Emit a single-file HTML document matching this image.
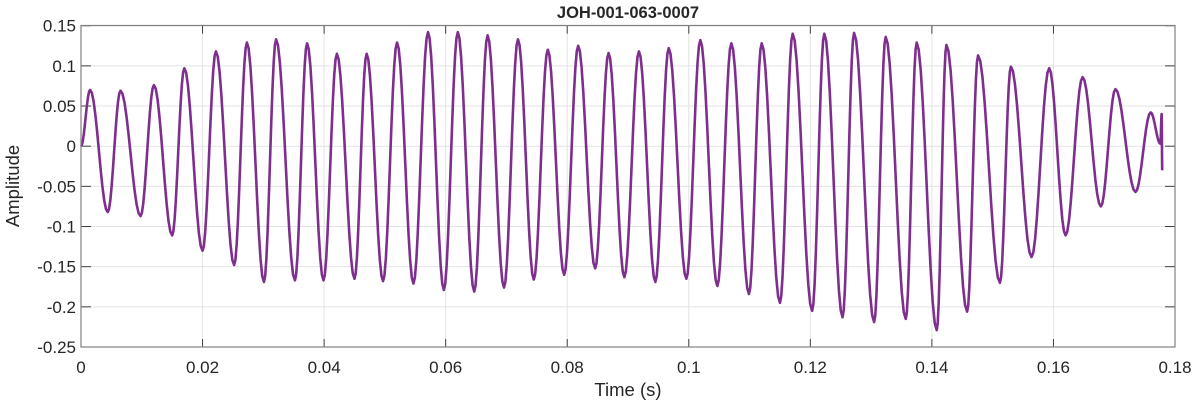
<!DOCTYPE html>
<html><head><meta charset="utf-8"><style>
html,body{margin:0;padding:0;background:#fff;}
svg{display:block;font-family:"Liberation Sans",Arial,sans-serif;}
</style></head><body>
<svg id="chart" width="1193" height="404" viewBox="0 0 1193 404" xmlns="http://www.w3.org/2000/svg">
<rect x="0" y="0" width="1193" height="404" fill="#fff"/>
<g id="grid"></g>
<g id="ticks"></g>
<path id="wave" fill="none" stroke="#7E2F8E" stroke-width="2.6" stroke-linejoin="round"/>
<rect x="81" y="25.5" width="1094" height="321.5" fill="none" stroke="#808080" stroke-width="1.2"/>
<text x="628" y="18" text-anchor="middle" font-size="16.5" font-weight="bold" fill="#262626">JOH-001-063-0007</text>
<text x="628" y="396" text-anchor="middle" font-size="18.5" fill="#262626">Time (s)</text>
<text transform="translate(19,186) rotate(-90)" text-anchor="middle" font-size="18.5" fill="#262626">Amplitude</text>
</svg>
<script>
const xTicks=[0,0.02,0.04,0.06,0.08,0.1,0.12,0.14,0.16,0.18];
const xTickLabels=["0","0.02","0.04","0.06","0.08","0.1","0.12","0.14","0.16","0.18"];
const yTicks=[0.15,0.1,0.05,0,-0.05,-0.1,-0.15,-0.2,-0.25];
const yTickLabels=["0.15","0.1","0.05","0","-0.05","-0.1","-0.15","-0.2","-0.25"];
const times=[0,0.0015,0.0044,0.0065,0.0098,0.012,0.015,0.017,0.020,0.0222,0.0252,0.0273,0.0301,0.0321,0.0352,0.0372,0.0399,0.0421,0.045,0.047,0.0497,0.052,0.0547,0.0571,0.0597,0.062,0.0647,0.0669,0.0696,0.0719,0.0745,0.0768,0.0795,0.0818,0.0846,0.0868,0.0894,0.0918,0.0945,0.0967,0.0996,0.1019,0.1047,0.107,0.1099,0.112,0.115,0.1171,0.1203,0.1223,0.1253,0.1272,0.1305,0.1324,0.1357,0.1375,0.1408,0.1424,0.1458,0.1476,0.1512,0.153,0.1564,0.1593,0.162,0.1648,0.1678,0.1702,0.1735,0.176,0.1776,0.1778,0.1779];
const amps=[0,0.07,-0.082,0.069,-0.087,0.076,-0.111,0.097,-0.130,0.118,-0.148,0.129,-0.169,0.133,-0.167,0.128,-0.167,0.115,-0.165,0.115,-0.168,0.129,-0.171,0.142,-0.179,0.142,-0.181,0.138,-0.176,0.133,-0.166,0.120,-0.160,0.125,-0.152,0.116,-0.163,0.118,-0.169,0.122,-0.165,0.132,-0.174,0.128,-0.184,0.128,-0.195,0.140,-0.205,0.140,-0.213,0.141,-0.219,0.136,-0.215,0.129,-0.229,0.126,-0.206,0.113,-0.170,0.099,-0.138,0.097,-0.111,0.086,-0.075,0.071,-0.057,0.042,0.003,0.04,-0.03];
const X0=81,X1=1175,Y0=25.7,Y1=347;
function xs(t){return X0+(t-0)/(0.18-0)*(X1-X0);}
function ys(a){return Y0+(0.15-a)/(0.4)*(Y1-Y0);}
const NS="http://www.w3.org/2000/svg";
const grid=document.getElementById('grid'),ticks=document.getElementById('ticks');
function mk(tag,attrs,parent){const e=document.createElementNS(NS,tag);for(const k in attrs)e.setAttribute(k,attrs[k]);parent.appendChild(e);return e;}
xTicks.forEach((t,i)=>{const x=xs(t);
 const g=mk('line',{x1:x,x2:x,y1:Y0,y2:Y1,stroke:'#e3e3e3','stroke-width':1},grid);
 
 
 const tk=mk('line',{x1:x,x2:x,y1:Y1,y2:Y1-8,stroke:'#404040','stroke-width':1},ticks);
 
 
 const tk2=mk('line',{x1:x,x2:x,y1:Y0,y2:Y0+8,stroke:'#404040','stroke-width':1},ticks);
 
 
 const l=mk('text',{x:x,y:373,'text-anchor':'middle','font-size':17,fill:'#262626'},ticks);l.textContent=xTickLabels[i];
 
 
});
yTicks.forEach((a,i)=>{const y=ys(a);
 const g=mk('line',{x1:X0,x2:X1,y1:y,y2:y,stroke:'#e3e3e3','stroke-width':1},grid);
 
 
 const tk=mk('line',{x1:X0,x2:X0+10,y1:y,y2:y,stroke:'#404040','stroke-width':1},ticks);
 
 
 const tk2=mk('line',{x1:X1,x2:X1-10,y1:y,y2:y,stroke:'#404040','stroke-width':1},ticks);
 
 
 const l=mk('text',{x:X0-5,y:y+6,'text-anchor':'end','font-size':17,fill:'#262626'},ticks);l.textContent=yTickLabels[i];
 
 
});
let d='M'+xs(times[0]).toFixed(2)+' '+ys(amps[0]).toFixed(2);
for(let i=1;i<times.length;i++){
 const t0=times[i-1],t1=times[i],a0=amps[i-1],a1=amps[i];
 const n=10;
 for(let k=1;k<=n;k++){const f=k/n;const s=(1-Math.cos(Math.PI*f))/2;
  d+=' L'+xs(t0+(t1-t0)*f).toFixed(2)+' '+ys(a0+(a1-a0)*s).toFixed(2);}
}
document.getElementById('wave').setAttribute('d',d);
</script>
</body></html>
